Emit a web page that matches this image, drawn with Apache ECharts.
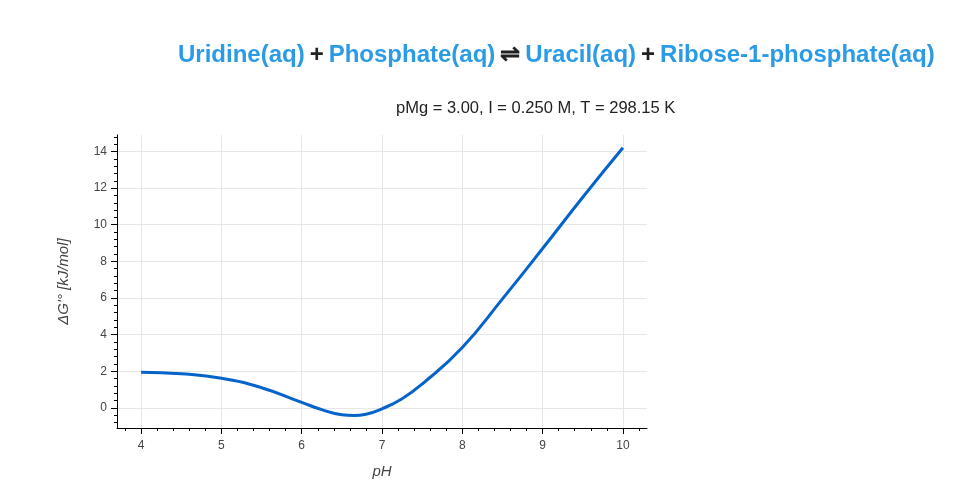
<!DOCTYPE html>
<html>
<head>
<meta charset="UTF-8">
<script src="https://cdn.jsdelivr.net/npm/echarts@6/dist/echarts.min.js"></script>
<style>html,body{margin:0;padding:0}#main{width:961px;height:491px}</style>
</head>
<body>
<div id="main"></div>
<script>
const pH = [4, 4.5, 5, 5.5, 6, 6.25, 6.5, 6.65, 6.8, 7, 7.25, 7.5, 8, 8.5, 9, 9.5, 10];
const dG = [1.95, 1.86, 1.62, 1.1, 0.3, -0.1, -0.38, -0.42, -0.35, -0.05, 0.5, 1.3, 3.3, 5.95, 8.7, 11.5, 14.2];
const xTicks = [4, 5, 6, 7, 8, 9, 10];
const yTicks = [0, 2, 4, 6, 8, 10, 12, 14];
const xMinor = [], yMinor = [];
for (let v = 3.8; v <= 10.21; v += 0.2) xMinor.push(+v.toFixed(1));
for (let v = -0.8; v <= 14.81; v += 0.4) yMinor.push(+v.toFixed(1));

const chart = echarts.init(document.getElementById('main'));
const font = 'Liberation Sans, Arial, sans-serif';
chart.setOption({
  animation: false,
  textStyle: { fontFamily: font },
  title: [{
    left: 173, top: 38,
    text: '{b|Uridine(aq)} {k|+} {b|Phosphate(aq)} {k|⇌} {b|Uracil(aq)} {k|+} {b|Ribose-1-phosphate(aq)}',
    textStyle: { rich: {
      b: { color: '#2b9be6', fontSize: 24, fontWeight: 'bold', fontFamily: font },
      k: { color: '#222', fontSize: 24, fontWeight: 'bold', fontFamily: font }
    } }
  }, {
    left: 391, top: 95,
    text: 'pMg = 3.00, I = 0.250 M, T = 298.15 K',
    textStyle: { color: '#222', fontSize: 16.5, fontWeight: 'normal', fontFamily: font }
  }],
  grid: { left: 117, right: 314, top: 135, bottom: 63 },
  xAxis: [{
    type: 'value', min: 3.7, max: 10.3,
    name: 'pH', nameLocation: 'middle', nameGap: 36,
    nameTextStyle: { fontStyle: 'italic', fontSize: 15, color: '#444' },
    axisLine: { onZero: false, lineStyle: { color: '#000' } },
    axisTick: { show: true, length: 6, inside: false, customValues: xTicks, lineStyle: { color: '#000' } },
    axisLabel: { customValues: xTicks, color: '#444', fontSize: 12, margin: 12 },
    splitLine: { show: true, lineStyle: { color: '#e6e6e6' } }
  }, {
    type: 'value', min: 3.7, max: 10.3, position: 'bottom',
    axisLine: { show: false, onZero: false },
    axisTick: { show: true, length: 3, customValues: xMinor, lineStyle: { color: '#000' } },
    axisLabel: { show: false }, splitLine: { show: false }
  }],
  yAxis: [{
    type: 'value', min: -1.1, max: 14.9,
    name: "ΔG'° [kJ/mol]", nameLocation: 'middle', nameGap: 46,
    nameTextStyle: { fontStyle: 'italic', fontSize: 15, color: '#444' },
    axisLine: { show: true, onZero: false, lineStyle: { color: '#000' } },
    axisTick: { show: true, length: 6, customValues: yTicks, lineStyle: { color: '#000' } },
    axisLabel: { customValues: yTicks, color: '#444', fontSize: 12, margin: 10 },
    splitLine: { show: true, lineStyle: { color: '#e6e6e6' } }
  }, {
    type: 'value', min: -1.1, max: 14.9, position: 'left',
    axisLine: { show: false, onZero: false },
    axisTick: { show: true, length: 3, customValues: yMinor, lineStyle: { color: '#000' } },
    axisLabel: { show: false }, splitLine: { show: false }
  }],
  series: [{
    type: 'line', smooth: true, showSymbol: false,
    data: pH.map((x, i) => [x, dG[i]]),
    lineStyle: { color: '#0563c9', width: 3 }
  }]
});
</script>
</body>
</html>
